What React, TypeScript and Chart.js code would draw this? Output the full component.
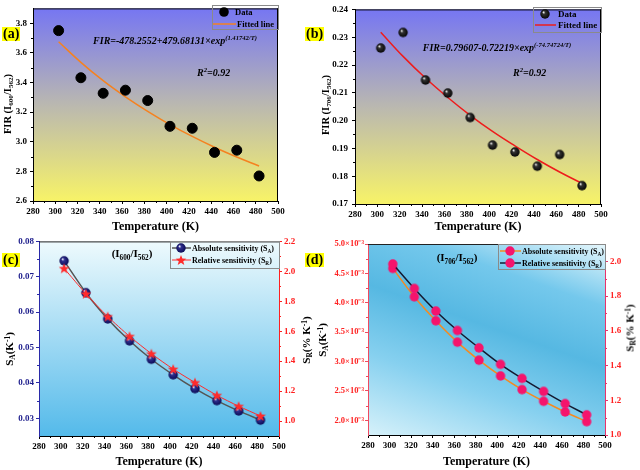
import React, { useEffect, useRef } from "react";
import { Chart, registerables } from "chart.js";

Chart.register(...registerables);

const FONT = '"Liberation Serif", "Times New Roman", serif';
Chart.defaults.font.family = FONT;

// ---------------- data ----------------
const temperature = [303, 323, 343, 363, 383, 403, 423, 443, 463, 483];
const xTickValues = [280, 300, 320, 340, 360, 380, 400, 420, 440, 460, 480, 500];

const firA = [3.75, 3.432, 3.327, 3.348, 3.278, 3.104, 3.091, 2.928, 2.943, 2.769];
const fitA = [3.675, 3.536, 3.412, 3.303, 3.205, 3.116, 3.036, 2.963, 2.897, 2.836];
const yTicksA = [2.6, 2.8, 3.0, 3.2, 3.4, 3.6, 3.8];

const firB = [0.2261, 0.2317, 0.2146, 0.2099, 0.2011, 0.1912, 0.1887, 0.1836, 0.1878, 0.1766];
const fitB = [0.2318, 0.2231, 0.2153, 0.2083, 0.2019, 0.1961, 0.1909, 0.186, 0.1815, 0.1774];
const yTicksB = [0.17, 0.18, 0.19, 0.2, 0.21, 0.22, 0.23, 0.24];

const saC = [0.0745, 0.0655, 0.0581, 0.0519, 0.0467, 0.0423, 0.0384, 0.035, 0.0321, 0.0295];
const srC = [2.02, 1.85, 1.698, 1.566, 1.45, 1.347, 1.257, 1.172, 1.099, 1.034];
const yTicksCLeft = [0.03, 0.04, 0.05, 0.06, 0.07, 0.08];
const yTicksCRight = [1.0, 1.2, 1.4, 1.6, 1.8, 2.0, 2.2];

const saD = [4.585e-3, 4.102e-3, 3.693e-3, 3.33e-3, 3.023e-3, 2.756e-3, 2.523e-3, 2.324e-3, 2.142e-3, 1.977e-3];
const srD = [1.985, 1.844, 1.714, 1.602, 1.502, 1.407, 1.326, 1.251, 1.181, 1.116];
const yTicksDLeft = [2.0e-3, 2.5e-3, 3.0e-3, 3.5e-3, 4.0e-3, 4.5e-3, 5.0e-3];
const yTicksDRight = [1.0, 1.2, 1.4, 1.6, 1.8, 2.0];

// ---------------- helpers ----------------
type Seg = { t: string; k?: "sub" | "sup" };

function segSize(s: Seg, size: number) {
  return s.k ? size * 0.66 : size;
}

function drawRich(
  ctx: CanvasRenderingContext2D,
  segs: Seg[],
  x: number,
  y: number,
  size: number,
  style: string,
  color: string,
  align: "left" | "center" | "right" = "left"
) {
  ctx.save();
  ctx.fillStyle = color;
  ctx.textBaseline = "alphabetic";
  ctx.textAlign = "left";
  let total = 0;
  for (const s of segs) {
    ctx.font = `${style} ${segSize(s, size)}px ${FONT}`;
    total += ctx.measureText(s.t).width;
  }
  let cx = align === "center" ? x - total / 2 : align === "right" ? x - total : x;
  for (const s of segs) {
    ctx.font = `${style} ${segSize(s, size)}px ${FONT}`;
    const dy = s.k === "sub" ? size * 0.3 : s.k === "sup" ? -size * 0.42 : 0;
    ctx.fillText(s.t, cx, y + dy);
    cx += ctx.measureText(s.t).width;
  }
  ctx.restore();
}

function sphereImg(r: number, dark: string, mid: string) {
  const c = document.createElement("canvas");
  const s = Math.ceil(r * 2 + 2);
  c.width = s;
  c.height = s;
  const g = c.getContext("2d")!;
  const cx = s / 2;
  const grad = g.createRadialGradient(cx - r * 0.35, cx - r * 0.4, r * 0.05, cx, cx, r);
  grad.addColorStop(0, "#ffffff");
  grad.addColorStop(0.3, mid);
  grad.addColorStop(1, dark);
  g.fillStyle = grad;
  g.beginPath();
  g.arc(cx, cx, r, 0, Math.PI * 2);
  g.fill();
  return c;
}

function starImg(r: number, color: string) {
  const c = document.createElement("canvas");
  const s = Math.ceil(r * 2 + 2);
  c.width = s;
  c.height = s;
  const g = c.getContext("2d")!;
  const cx = s / 2;
  g.fillStyle = color;
  g.beginPath();
  for (let i = 0; i < 10; i++) {
    const rr = i % 2 === 0 ? r : r * 0.42;
    const a = -Math.PI / 2 + (i * Math.PI) / 5;
    const px = cx + rr * Math.cos(a);
    const py = cx + 0.5 + rr * Math.sin(a);
    if (i === 0) g.moveTo(px, py);
    else g.lineTo(px, py);
  }
  g.closePath();
  g.fill();
  return c;
}

function circleImg(r: number, color: string) {
  const c = document.createElement("canvas");
  const s = Math.ceil(r * 2 + 2);
  c.width = s;
  c.height = s;
  const g = c.getContext("2d")!;
  g.fillStyle = color;
  g.beginPath();
  g.arc(s / 2, s / 2, r, 0, Math.PI * 2);
  g.fill();
  return c;
}

interface LegendItem {
  y: number;
  line?: [number, number];
  lineColor?: string;
  lineWidth?: number;
  markerX?: number;
  marker?: HTMLCanvasElement;
  textX: number;
  segs: Seg[];
}

interface Annotation {
  segs: Seg[];
  x: number;
  y: number;
  size: number;
  style: string;
  align?: "left" | "center" | "right";
}

interface PanelSpec {
  bg: (ctx: CanvasRenderingContext2D, a: any) => CanvasGradient;
  frameTop: string;
  frameRight?: string;
  annotations: Annotation[];
  legend: { x: number; y: number; w: number; h: number; size: number; items: LegendItem[] };
}

function panelPlugin(spec: PanelSpec) {
  return {
    id: "panelDecor",
    beforeDraw(chart: any) {
      const { ctx, chartArea: a } = chart;
      ctx.save();
      ctx.fillStyle = spec.bg(ctx, a);
      ctx.fillRect(a.left, a.top, a.right - a.left, a.bottom - a.top);
      ctx.restore();
    },
    afterDraw(chart: any) {
      const { ctx, chartArea: a } = chart;
      ctx.save();
      ctx.lineWidth = 1;
      ctx.strokeStyle = spec.frameTop;
      ctx.beginPath();
      ctx.moveTo(a.left, a.top + 0.5);
      ctx.lineTo(a.right, a.top + 0.5);
      ctx.stroke();
      if (spec.frameRight) {
        ctx.strokeStyle = spec.frameRight;
        ctx.beginPath();
        ctx.moveTo(a.right - 0.5, a.top);
        ctx.lineTo(a.right - 0.5, a.bottom);
        ctx.stroke();
      }
      for (const id of Object.keys(chart.scales)) {
        const sc = chart.scales[id];
        const vals = sc.ticks.map((t: any) => t.value);
        ctx.strokeStyle = sc.options.border.color;
        for (let i = 0; i < vals.length - 1; i++) {
          const p = Math.round(sc.getPixelForValue((vals[i] + vals[i + 1]) / 2)) + 0.5;
          ctx.beginPath();
          if (sc.axis === "x") {
            ctx.moveTo(p, a.bottom);
            ctx.lineTo(p, a.bottom + 2);
          } else if (sc.position === "left") {
            ctx.moveTo(a.left, p);
            ctx.lineTo(a.left - 2, p);
          } else {
            ctx.moveTo(a.right, p);
            ctx.lineTo(a.right + 2, p);
          }
          ctx.stroke();
        }
      }
      for (const an of spec.annotations) {
        drawRich(ctx, an.segs, an.x, an.y, an.size, an.style, "#000", an.align || "left");
      }
      const L = spec.legend;
      ctx.strokeStyle = "#8a8a8a";
      ctx.lineWidth = 1;
      ctx.strokeRect(L.x + 0.5, L.y + 0.5, L.w, L.h);
      for (const it of L.items) {
        if (it.line) {
          ctx.strokeStyle = it.lineColor || "#000";
          ctx.lineWidth = it.lineWidth || 1.5;
          ctx.beginPath();
          ctx.moveTo(it.line[0], it.y);
          ctx.lineTo(it.line[1], it.y);
          ctx.stroke();
        }
        if (it.marker && it.markerX !== undefined) {
          ctx.drawImage(it.marker, it.markerX - it.marker.width / 2, it.y - it.marker.height / 2);
        }
        drawRich(ctx, it.segs, it.textX, it.y + L.size * 0.35, L.size, "bold", "#000", "left");
      }
      ctx.restore();
    },
  };
}

function xScale(height: number, titlePad: number) {
  return {
    type: "linear",
    position: "bottom",
    min: 280,
    max: 500,
    afterBuildTicks: (s: any) => {
      s.ticks = xTickValues.map((v) => ({ value: v }));
    },
    afterFit: (s: any) => {
      s.height = height;
    },
    grid: { drawOnChartArea: false, drawTicks: true, tickLength: 3, color: "#000", tickColor: "#000" },
    border: { display: true, color: "#000", width: 1 },
    ticks: {
      color: "#000",
      font: { family: FONT, size: 9, weight: "bold" },
      padding: 2,
      maxRotation: 0,
      autoSkip: false,
      callback: (v: any) => String(v),
    },
    title: {
      display: true,
      text: "Temperature (K)",
      color: "#000",
      font: { family: FONT, size: 12, weight: "bold" },
      padding: { top: 0, bottom: titlePad },
    },
  };
}

function yScale(o: {
  pos: "left" | "right";
  min: number;
  max: number;
  ticks: number[];
  width: number;
  color: string;
  labelColor: string;
  fmt: (v: number) => string;
  padding: number;
  size?: number;
}) {
  return {
    type: "linear",
    position: o.pos,
    min: o.min,
    max: o.max,
    afterBuildTicks: (s: any) => {
      s.ticks = o.ticks.map((v) => ({ value: v }));
    },
    afterFit: (s: any) => {
      s.width = o.width;
    },
    grid: { drawOnChartArea: false, drawTicks: true, tickLength: 3, color: o.color, tickColor: o.color },
    border: { display: true, color: o.color, width: 1 },
    ticks: {
      color: o.labelColor,
      font: { family: FONT, size: o.size || 9, weight: "bold" },
      padding: o.padding,
      autoSkip: false,
      callback: (v: any) => o.fmt(Number(v)),
    },
    title: { display: false },
  };
}

const pts = (ys: number[]) => temperature.map((t, i) => ({ x: t, y: ys[i] }));

function baseOptions(padding: any, scales: any) {
  return {
    animation: false,
    responsive: false,
    events: [],
    layout: { padding },
    plugins: { legend: { display: false }, tooltip: { enabled: false } },
    scales,
  };
}

function blueYellow(ctx: CanvasRenderingContext2D, a: any) {
  const g = ctx.createLinearGradient(0, a.top, 0, a.bottom);
  g.addColorStop(0, "rgb(118,118,242)");
  g.addColorStop(0.5, "rgb(186,184,176)");
  g.addColorStop(1, "rgb(247,243,104)");
  return g;
}

function cyanVertical(ctx: CanvasRenderingContext2D, a: any) {
  const g = ctx.createLinearGradient(0, a.top, 0, a.bottom);
  g.addColorStop(0, "rgb(238,250,253)");
  g.addColorStop(1, "rgb(84,186,234)");
  return g;
}

function cyanDiagonal(ctx: CanvasRenderingContext2D, a: any) {
  const w = a.right - a.left;
  const h = a.bottom - a.top;
  const dx = -0.35;
  const pMin = dx * w;
  const pMax = h;
  const t = (pMax - pMin) / (dx * dx + 1);
  const g = ctx.createLinearGradient(a.left + w, a.top, a.left + w + dx * t, a.top + t);
  g.addColorStop(0, "#e6f7fc");
  g.addColorStop(0.23, "#74c8ec");
  g.addColorStop(0.45, "#56b8e2");
  g.addColorStop(0.7, "#86d0ef");
  g.addColorStop(1, "#d6f1fa");
  return g;
}

// ---------------- HTML overlays ----------------
const Sub = ({ children }: any) => (
  <span style={{ fontSize: "0.68em", position: "relative", top: "0.3em" }}>{children}</span>
);
const Sup = ({ children }: any) => (
  <span style={{ fontSize: "0.68em", position: "relative", top: "-0.45em" }}>{children}</span>
);

function VTitle({ cx, cy, size = 11, children }: any) {
  return (
    <div
      style={{
        position: "absolute",
        left: cx,
        top: cy,
        transform: "translate(-50%,-50%) rotate(-90deg)",
        whiteSpace: "nowrap",
        font: `bold ${size}px ${FONT}`,
        color: "#000",
        lineHeight: 1,
      }}
    >
      {children}
    </div>
  );
}

function PanelLabel({ x, y, text }: any) {
  return (
    <div
      style={{
        position: "absolute",
        left: x,
        top: y,
        background: "#ffff00",
        font: `bold 14px ${FONT}`,
        lineHeight: "14px",
        padding: "0 1px",
        color: "#000",
      }}
    >
      {text}
    </div>
  );
}

export default function App() {
  const refA = useRef<HTMLCanvasElement>(null);
  const refB = useRef<HTMLCanvasElement>(null);
  const refC = useRef<HTMLCanvasElement>(null);
  const refD = useRef<HTMLCanvasElement>(null);

  useEffect(() => {
    const blackSphere = sphereImg(4.7, "#050505", "#333333");
    const navySphere = sphereImg(4.7, "#0a0a55", "#303090");
    const redStar = starImg(5.6, "#ff2b2b");
    const pinkDot = circleImg(4.7, "#f5146c");
    const blackDot = circleImg(4.8, "#000000");

    const charts: Chart[] = [];

    charts.push(
      new Chart(refA.current as HTMLCanvasElement, {
        type: "scatter",
        data: {
          datasets: [
            {
              label: "Fitted line",
              data: pts(fitA),
              showLine: true,
              borderColor: "#f58220",
              borderWidth: 1.5,
              pointRadius: 0,
              tension: 0.4,
              order: 2,
            },
            {
              label: "Data",
              data: pts(firA),
              showLine: false,
              pointRadius: 5,
              pointBackgroundColor: "#000",
              pointBorderColor: "#000",
              order: 1,
            },
          ],
        },
        options: baseOptions(
          { left: 0, top: 5, right: 42, bottom: 0 },
          {
            x: xScale(33, 0),
            y: yScale({
              pos: "left", min: 2.6, max: 3.9, ticks: yTicksA, width: 33, color: "#000",
              labelColor: "#000", fmt: (v) => v.toFixed(1), padding: 3,
            }),
          }
        ) as any,
        plugins: [
          panelPlugin({
            bg: blueYellow,
            frameTop: "#000",
            frameRight: "#000",
            annotations: [
              {
                segs: [{ t: "FIR=-478.2552+479.68131×exp" }, { t: "(1.41742/T)", k: "sup" }],
                x: 175, y: 44, size: 10, style: "italic bold", align: "center",
              },
              { segs: [{ t: "R" }, { t: "2", k: "sup" }, { t: "=0.92" }], x: 197, y: 76, size: 10, style: "italic bold" },
            ],
            legend: {
              x: 212, y: 5, w: 66, h: 24, size: 8.5,
              items: [
                { y: 12, markerX: 224, marker: blackDot, textX: 235, segs: [{ t: "Data" }] },
                { y: 24, line: [213, 236], lineColor: "#f58220", lineWidth: 1.5, textX: 237, segs: [{ t: "Fitted line" }] },
              ],
            },
          }),
        ],
      } as any)
    );

    charts.push(
      new Chart(refB.current as HTMLCanvasElement, {
        type: "scatter",
        data: {
          datasets: [
            {
              label: "Fitted line",
              data: pts(fitB),
              showLine: true,
              borderColor: "#ee1c1c",
              borderWidth: 1.5,
              pointRadius: 0,
              tension: 0.4,
              order: 2,
            },
            {
              label: "Data",
              data: pts(firB),
              showLine: false,
              pointRadius: 4.7,
              pointStyle: blackSphere,
              order: 1,
            },
          ],
        },
        options: baseOptions(
          { left: 0, top: 7, right: 39, bottom: 0 },
          {
            x: xScale(30, 0),
            y: yScale({
              pos: "left", min: 0.17, max: 0.24, ticks: yTicksB, width: 35, color: "#000",
              labelColor: "#000", fmt: (v) => v.toFixed(2), padding: 4,
            }),
          }
        ) as any,
        plugins: [
          panelPlugin({
            bg: blueYellow,
            frameTop: "#000",
            frameRight: "#000",
            annotations: [
              {
                segs: [{ t: "FIR=0.79607-0.72219×exp" }, { t: "(-74.74724/T)", k: "sup" }],
                x: 177, y: 51, size: 10, style: "italic bold", align: "center",
              },
              { segs: [{ t: "R" }, { t: "2", k: "sup" }, { t: "=0.92" }], x: 193, y: 76, size: 10, style: "italic bold" },
            ],
            legend: {
              x: 213, y: 7, w: 68, h: 25, size: 9,
              items: [
                { y: 14, markerX: 225, marker: blackSphere, textX: 238, segs: [{ t: "Data" }] },
                { y: 25, line: [215, 236], lineColor: "#ee1c1c", lineWidth: 1.5, textX: 238, segs: [{ t: "Fitted line" }] },
              ],
            },
          }),
        ],
      } as any)
    );

    charts.push(
      new Chart(refC.current as HTMLCanvasElement, {
        type: "scatter",
        data: {
          datasets: [
            {
              label: "Absolute sensitivity (SA)",
              data: pts(saC),
              yAxisID: "y",
              showLine: true,
              borderColor: "#555555",
              borderWidth: 1.5,
              tension: 0.25,
              pointRadius: 4.7,
              pointStyle: navySphere,
              order: 2,
            },
            {
              label: "Relative sensitivity (SR)",
              data: pts(srC),
              yAxisID: "y2",
              showLine: true,
              borderColor: "#ff2b2b",
              borderWidth: 1,
              tension: 0.25,
              pointRadius: 5.6,
              pointStyle: redStar,
              order: 1,
            },
          ],
        },
        options: baseOptions(
          { left: 0, top: 7, right: 0, bottom: 0 },
          {
            x: xScale(34, 1),
            y: yScale({
              pos: "left", min: 0.025, max: 0.08, ticks: yTicksCLeft, width: 39, color: "#2a2aa8",
              labelColor: "#1c1c8c", fmt: (v) => v.toFixed(2), padding: 2,
            }),
            y2: yScale({
              pos: "right", min: 0.9, max: 2.2, ticks: yTicksCRight, width: 41, color: "#ff2020",
              labelColor: "#ff2020", fmt: (v) => v.toFixed(1), padding: 2,
            }),
          }
        ) as any,
        plugins: [
          panelPlugin({
            bg: cyanVertical,
            frameTop: "#222",
            annotations: [
              {
                segs: [{ t: "(I" }, { t: "600", k: "sub" }, { t: "/I" }, { t: "562", k: "sub" }, { t: ")" }],
                x: 132, y: 23, size: 11, style: "bold", align: "center",
              },
            ],
            legend: {
              x: 170, y: 7, w: 109, h: 27, size: 8,
              items: [
                {
                  y: 14, line: [172, 191], lineColor: "#555555", lineWidth: 1.5, markerX: 181, marker: navySphere,
                  textX: 192, segs: [{ t: "Absolute sensitivity (S" }, { t: "A", k: "sub" }, { t: ")" }],
                },
                {
                  y: 26, line: [172, 191], lineColor: "#ff2b2b", lineWidth: 1, markerX: 181, marker: redStar,
                  textX: 192, segs: [{ t: "Relative sensitivity (S" }, { t: "R", k: "sub" }, { t: ")" }],
                },
              ],
            },
          }),
        ],
      } as any)
    );

    charts.push(
      new Chart(refD.current as HTMLCanvasElement, {
        type: "scatter",
        data: {
          datasets: [
            {
              label: "Absolute sensitivity (SA)",
              data: pts(saD),
              yAxisID: "y",
              showLine: true,
              borderColor: "#f58a20",
              borderWidth: 1.5,
              tension: 0.3,
              pointRadius: 4.7,
              pointStyle: pinkDot,
              order: 2,
            },
            {
              label: "Relative sensitivity (SR)",
              data: pts(srD),
              yAxisID: "y2",
              showLine: true,
              borderColor: "#141a30",
              borderWidth: 1.5,
              tension: 0.4,
              pointRadius: 4.7,
              pointStyle: pinkDot,
              order: 1,
            },
          ],
        },
        options: baseOptions(
          { left: 0, top: 10, right: 0, bottom: 0 },
          {
            x: xScale(35, 1),
            y: yScale({
              pos: "left", min: 1.75e-3, max: 5.0e-3, ticks: yTicksDLeft, width: 48, color: "#f04a60",
              labelColor: "#ff2222", fmt: (v) => `${(v * 1000).toFixed(1)}×10⁻³`, padding: 1, size: 8.5,
            }),
            y2: yScale({
              pos: "right", min: 1.0, max: 2.1, ticks: yTicksDRight, width: 35, color: "#e8336b",
              labelColor: "#ff2222", fmt: (v) => v.toFixed(1), padding: 2,
            }),
          }
        ) as any,
        plugins: [
          panelPlugin({
            bg: cyanDiagonal,
            frameTop: "#222",
            annotations: [
              {
                segs: [{ t: "(I" }, { t: "706", k: "sub" }, { t: "/I" }, { t: "562", k: "sub" }, { t: ")" }],
                x: 137, y: 27, size: 11, style: "bold", align: "center",
              },
            ],
            legend: {
              x: 178, y: 10, w: 107, h: 25, size: 8,
              items: [
                {
                  y: 17, line: [180, 201], lineColor: "#f58a20", lineWidth: 1.5, markerX: 190, marker: pinkDot,
                  textX: 202, segs: [{ t: "Absolute sensitivity (S" }, { t: "A", k: "sub" }, { t: ")" }],
                },
                {
                  y: 29, line: [180, 201], lineColor: "#141a30", lineWidth: 1.5, markerX: 190, marker: pinkDot,
                  textX: 202, segs: [{ t: "Relative sensitivity (S" }, { t: "R", k: "sub" }, { t: ")" }],
                },
              ],
            },
          }),
        ],
      } as any)
    );

    return () => charts.forEach((c) => c.destroy());
  }, []);

  const cv = (left: number, top: number, w: number, h: number, ref: any) => (
    <canvas ref={ref} width={w} height={h} style={{ position: "absolute", left, top, width: w, height: h }} />
  );

  return (
    <div
      style={{
        position: "absolute",
        left: 0,
        top: 0,
        width: 640,
        height: 470,
        background: "#fff",
        overflow: "hidden",
        fontFamily: FONT,
      }}
    >
      {cv(0, 0, 320, 234, refA)}
      {cv(320, 0, 320, 234, refB)}
      {cv(0, 234, 320, 236, refC)}
      {cv(320, 234, 320, 236, refD)}

      <PanelLabel x={2} y={27} text="(a)" />
      <PanelLabel x={305} y={27} text="(b)" />
      <PanelLabel x={2} y={253} text="(c)" />
      <PanelLabel x={305} y={253} text="(d)" />

      <VTitle cx={8} cy={104} size={10.5}>
        FIR (I<Sub>600</Sub>/I<Sub>562</Sub>)
      </VTitle>
      <VTitle cx={326} cy={105} size={10.5}>
        FIR (I<Sub>706</Sub>/I<Sub>562</Sub>)
      </VTitle>
      <VTitle cx={9} cy={349} size={11}>
        S<Sub>A</Sub>(K<Sup>-1</Sup>)
      </VTitle>
      <VTitle cx={306} cy={340} size={11}>
        S<Sub>R</Sub>(% K<Sup>-1</Sup>)
      </VTitle>
      <VTitle cx={322} cy={340} size={11}>
        S<Sub>A</Sub>(K<Sup>-1</Sup>)
      </VTitle>
      <VTitle cx={630} cy={328} size={11}>
        S<Sub>R</Sub>(% K<Sup>-1</Sup>)
      </VTitle>
    </div>
  );
}
